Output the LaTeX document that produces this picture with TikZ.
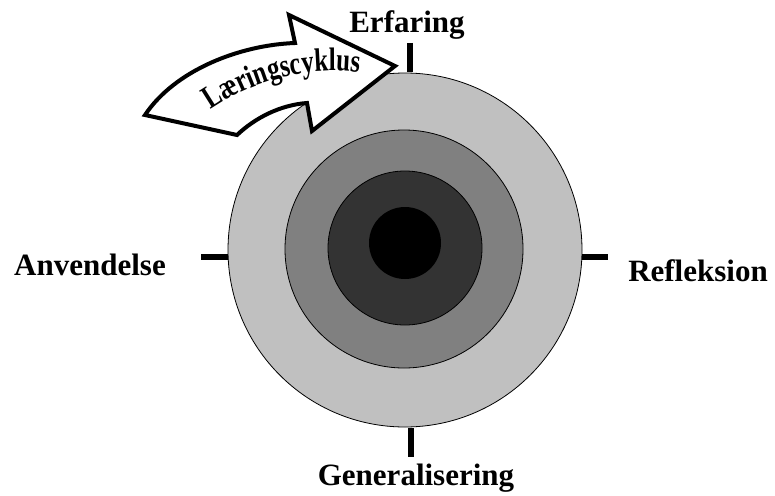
\documentclass[tikz,border=0pt]{standalone}
\usepackage{fontspec}
\setmainfont{Liberation Serif}
\usetikzlibrary{decorations.text}

\definecolor{ringlight}{RGB}{192,192,192}
\definecolor{ringmid}{RGB}{128,128,128}
\definecolor{ringdark}{RGB}{51,51,51}

\begin{document}
\begin{tikzpicture}[x=1pt,y=-1pt,
  ring/.style={draw=black, line width=0.8pt},
  tick/.style={line width=6pt},
  lbl/.style={font=\fontsize{31}{31}\selectfont\bfseries, anchor=base, inner sep=0pt}]
\useasboundingbox (0,0) rectangle (775,495);

% ticks
\draw[tick] (410,43) -- (410,72);
\draw[tick] (411,428) -- (411,457);
\draw[tick] (201,257) -- (229,257);
\draw[tick] (580,257) -- (608,257);

% rings
\filldraw[ring, fill=ringlight] (405,250) circle (177pt);
\filldraw[ring, fill=ringmid] (404,249) circle (119pt);
\filldraw[ring, fill=ringdark] (405,248) circle (77pt);
\fill[black] (405,243) circle (36pt);

% curved arrow
\filldraw[fill=white, draw=black, line width=4pt, line join=miter]
  (145,115) .. controls (175,70) and (240,45) .. (295,43) -- (289,15) -- (395,66)
  -- (312,131) -- (307,103) .. controls (280,105) and (255,118) .. (237,135) -- cycle;
\path[decorate, decoration={text effects along path, text={Læringscyklus}, text align=center,
  text effects/.cd, text along path,
  every character/.append style={font=\fontsize{25}{25}\selectfont\bfseries, yscale=1.3}}]
  (209,111) .. controls (245,86) and (300,64) .. (361,73);

% labels
\node[lbl] (erf) at (407,33) {Erfaring};
\node[lbl] (ref) at (698,281) {Refleksion};
\node[lbl] (gen) at (416,485) {Generalisering};
\node[lbl] (anv) at (90,275) {Anvendelse};
\end{tikzpicture}
\end{document}
